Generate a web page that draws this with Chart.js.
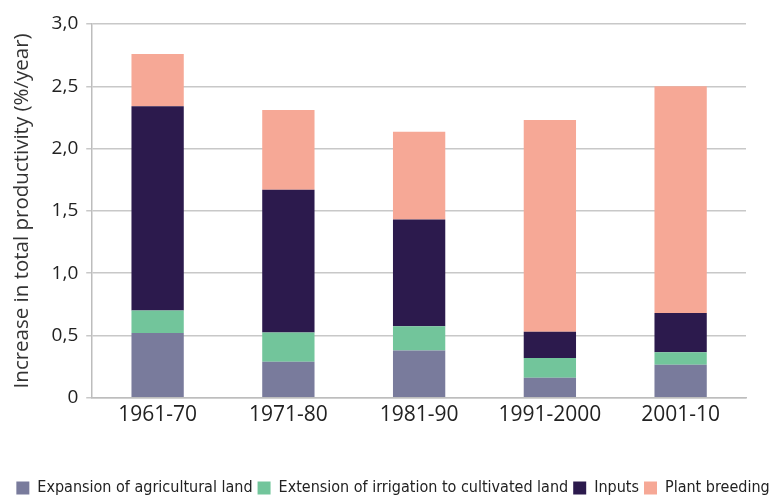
<!DOCTYPE html>
<html><head><meta charset="utf-8">
<script src="https://cdn.jsdelivr.net/npm/chart.js@4/dist/chart.umd.min.js"></script>
<style>html,body{margin:0;padding:0;background:#fff}#wrap{width:776px;height:498px}</style>
</head><body><div id="wrap"><canvas id="c" width="776" height="498"></canvas></div>
<script>
const categories = ["1961-70", "1971-80", "1981-90", "1991-2000", "2001-10"];
const expansionLand = [0.52, 0.29, 0.38, 0.16, 0.265];
const irrigation = [0.18, 0.235, 0.195, 0.16, 0.10];
const inputs = [1.64, 1.145, 0.855, 0.21, 0.315];
const plantBreeding = [0.42, 0.64, 0.705, 1.70, 1.82];
const yTickLabels = {0: "0", 0.5: "0,5", 1: "1,0", 1.5: "1,5", 2: "2,0", 2.5: "2,5", 3: "3,0"};
const seriesNames = ["Expansion of agricultural land", "Extension of irrigation to cultivated land", "Inputs", "Plant breeding"];

const colors = ["#797b9c", "#72c59b", "#2c1a4d", "#f6a896"];
const data = [expansionLand, irrigation, inputs, plantBreeding];

new Chart(document.getElementById('c'), {
  type: 'bar',
  data: {
    labels: categories,
    datasets: data.map((d, i) => ({
      label: seriesNames[i], data: d, backgroundColor: colors[i],
      borderWidth: 0, barPercentage: 0.4, categoryPercentage: 1.0
    }))
  },
  options: {
    responsive: false, animation: false,
    layout: { padding: { top: 24, right: 0, left: 10, bottom: -8 } },
    plugins: {
      tooltip: { enabled: false },
      legend: {
        position: 'bottom',
        labels: {
          font: { family: "'Liberation Sans Narrow', 'DejaVu Sans Condensed', sans-serif", size: 16 },
          color: '#222', boxWidth: 13, boxHeight: 13, padding: 5
        }
      }
    },
    scales: {
      x: {
        stacked: true,
        grid: { display: false, drawTicks: false },
        border: { color: '#bdbdbd', width: 1.5 },
        ticks: { font: { family: "'Open Sans', sans-serif", size: 21 }, color: '#222', padding: 5 },
        afterFit(scale) { scale.height += 42; }
      },
      y: {
        stacked: true, min: 0, max: 3,
        grid: { color: '#c8c8c8', lineWidth: 1.5, tickLength: 6 },
        border: { color: '#bdbdbd', width: 1.5 },
        ticks: {
          stepSize: 0.5, padding: 8,
          font: { family: "'Open Sans', sans-serif", size: 19 }, color: '#222',
          callback: v => yTickLabels[v] !== undefined ? yTickLabels[v] : ''
        },
        title: {
          display: true, text: 'Increase in total productivity (%/year)',
          font: { family: "'Open Sans', sans-serif", size: 20.5 }, color: '#333', padding: { top: 0, bottom: 9 }
        }
      },
      yRight: {
        position: 'right', display: true, min: 0, max: 3,
        grid: { display: false, drawTicks: false },
        border: { display: false },
        ticks: { display: false },
        afterFit(scale) { scale.width = 30; }
      }
    }
  }
});
</script></body></html>
